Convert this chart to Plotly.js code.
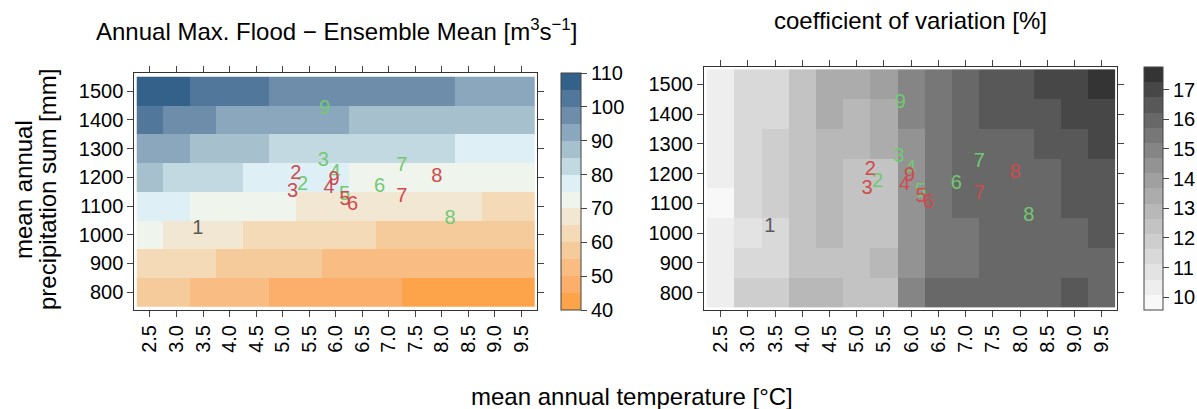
<!DOCTYPE html>
<html>
<head>
<meta charset="utf-8">
<script src="https://cdn.plot.ly/plotly-3.0.1.min.js"></script>
<style>html,body{margin:0;padding:0;background:#fff;}#chart{width:1197px;height:409px;}</style>
</head>
<body>
<div id="chart"></div>
<script>
// ---- data ----
const temps = [2.5,3.0,3.5,4.0,4.5,5.0,5.5,6.0,6.5,7.0,7.5,8.0,8.5,9.0,9.5];
const tempLabels = ["2.5","3.0","3.5","4.0","4.5","5.0","5.5","6.0","6.5","7.0","7.5","8.0","8.5","9.0","9.5"];
const precip = [800,900,1000,1100,1200,1300,1400,1500];

// Annual max flood ensemble mean [m3/s], rows = precip (800..1500), cols = temps
const floodMean = [
  [57.5,56.8,52.4,51.9,51.2,47.6,47.1,46.8,46.3,45.9,42.8,42.4,42.1,41.8,41.5],
  [62.3,61.7,61.2,57.8,57.2,56.7,56.1,52.9,52.6,52.3,52.0,51.7,51.4,51.1,50.8],
  [72.1,67.8,67.3,66.9,62.9,62.6,62.2,61.9,61.4,57.9,57.6,57.2,56.9,56.5,56.2],
  [77.4,76.8,72.8,72.4,72.0,71.6,67.8,67.5,67.2,66.8,66.5,66.1,65.8,62.4,62.1],
  [87.3,82.9,82.5,82.1,77.9,77.6,77.3,76.9,72.8,72.6,72.3,72.0,71.8,71.5,71.2],
  [92.6,92.1,87.8,87.4,87.0,82.9,82.7,82.4,82.2,81.9,81.6,81.3,77.9,77.6,77.2],
  [102.4,97.8,97.3,92.9,92.6,92.3,92.0,91.7,87.9,87.6,87.3,87.0,86.8,86.5,86.2],
  [107.6,106.9,102.8,102.4,102.1,97.9,97.7,97.5,97.3,97.1,96.9,96.7,92.8,92.5,92.2]
];

// coefficient of variation [%], rows = precip (800..1500), cols = temps
const cvPct = [
  [10.3,11.9,11.9,12.9,12.9,12.4,12.4,14.9,16.0,16.0,16.0,16.0,16.0,16.5,16.0],
  [10.3,11.4,11.4,12.4,12.4,12.4,12.9,14.4,15.5,15.5,16.0,16.0,16.0,16.0,16.0],
  [10.3,10.9,11.4,12.4,12.9,12.4,12.4,14.4,15.5,15.5,16.0,16.0,16.0,16.0,16.5],
  [9.8,11.4,11.9,12.4,12.9,12.4,12.4,14.4,15.5,16.0,16.0,16.0,16.0,16.5,16.5],
  [10.3,11.4,11.9,12.4,12.9,12.4,12.4,14.4,15.5,16.0,16.0,16.0,16.0,16.5,16.5],
  [10.3,11.4,11.9,12.4,12.9,12.9,13.4,14.4,15.5,16.0,16.0,16.0,16.5,16.5,17.0],
  [10.3,11.4,11.4,12.4,13.4,12.9,13.4,14.9,15.5,16.0,16.5,16.5,16.5,17.0,17.0],
  [10.3,11.4,11.4,12.4,13.4,13.4,13.9,14.9,15.5,16.0,16.5,16.5,17.0,17.0,17.5]
];

// scenario labels (temperature, precipitation)
const greenT = [5.80,5.77,5.99,5.38,6.17,6.83,7.25,8.16];
const greenP = [1436,1256,1215,1172,1137,1165,1238,1056];
const greenTxt = ["9","3","4","2","5","6","7","8"];
const redT = [5.25,5.19,5.97,5.88,6.18,6.32,7.25,7.91];
const redP = [1212,1149,1192,1163,1122,1102,1132,1201];
const redTxt = ["2","3","9","4","5","6","7","8"];
const refT = [3.40];
const refP = [1020];
const refTxt = ["1"];

const floodTicks = [40,50,60,70,80,90,100,110];
const cvTicks = [10,11,12,13,14,15,16,17];

// ---- palettes ----
const floodColors = ['#FDA44A','#FBAF6A','#F9BC82','#F6CB9C','#F4DAB6','#F2E7D3','#EFF5EC',
                     '#DEF0F5','#C3D9E1','#A7C0CE','#8AA7BD','#6E8DAB','#51789B','#34618A'];
const greyColors = ['#F8F8F8','#EEEEEE','#E3E3E3','#D9D9D9','#CECECE','#C3C3C3','#B8B8B8','#ACACAC',
                    '#A0A0A0','#939393','#858585','#777777','#686868','#585858','#474747','#343434'];
function stepped(cols){
  const n = cols.length, cs = [];
  cols.forEach((c,i)=>{ cs.push([i/n,c]); cs.push([(i+1)/n,c]); });
  return cs;
}

const W = 1197, H = 409;
const FONT = 'Liberation Sans, Arial, sans-serif';
const px = v => v / W;
const py = v => (H - v) / H;

function cbar(xpx, toppx, botpx, thick, ticks){
  return {
    x: px(xpx), xanchor: 'left', y: py(botpx), yanchor: 'bottom',
    len: botpx - toppx, lenmode: 'pixels', thickness: thick, thicknessmode: 'pixels',
    xpad: 0, ypad: 0, outlinewidth: 1, outlinecolor: '#444',
    ticks: 'outside', ticklen: 6, tickcolor: '#444', tickwidth: 1,
    tickvals: ticks, ticktext: ticks.map(String),
    tickfont: {size: 20, color: '#000', family: FONT}
  };
}

const traces = [
  {type:'heatmap', x: temps, y: precip, z: floodMean, zmin: 40, zmax: 110,
   colorscale: stepped(floodColors), zsmooth: false, xaxis:'x', yaxis:'y', hoverinfo:'skip',
   colorbar: cbar(561, 73.3, 310, 20, floodTicks)},
  {type:'heatmap', x: temps, y: precip, z: cvPct, zmin: 9.57, zmax: 17.76,
   colorscale: stepped(greyColors), zsmooth: false, xaxis:'x2', yaxis:'y2', hoverinfo:'skip',
   colorbar: cbar(1143.5, 66.7, 310, 18.5, cvTicks)}
];
[['x','y'],['x2','y2']].forEach(([xa,ya])=>{
  traces.push({type:'scatter', mode:'text', x: greenT, y: greenP, text: greenTxt, xaxis:xa, yaxis:ya,
    textfont:{size:20, color:'#72C972', family: FONT}, hoverinfo:'skip', cliponaxis:false});
  traces.push({type:'scatter', mode:'text', x: redT, y: redP, text: redTxt, xaxis:xa, yaxis:ya,
    textfont:{size:20, color:'#CF4A4F', family: FONT}, hoverinfo:'skip', cliponaxis:false});
  traces.push({type:'scatter', mode:'text', x: refT, y: refP, text: refTxt, xaxis:xa, yaxis:ya,
    textfont:{size:20, color:'#595959', family: FONT}, hoverinfo:'skip', cliponaxis:false});
});

function xax(d0,d1,r){
  return {domain:[px(d0),px(d1)], range:r, showline:true, linecolor:'#333', linewidth:1, mirror:'ticks',
    ticks:'outside', ticklen:6, tickcolor:'#444', tickwidth:1, showgrid:false, zeroline:false,
    tickvals: temps, ticktext: tempLabels, tickangle:-90, tickfont:{size:20, color:'#000', family:FONT}};
}
function yax(top,bot,r,anchor){
  return {domain:[py(bot),py(top)], range:r, showline:true, linecolor:'#333', linewidth:1, mirror:'ticks',
    ticks:'outside', ticklen:6, tickcolor:'#444', tickwidth:1, showgrid:false, zeroline:false, anchor:anchor,
    tickvals: precip, ticktext: precip.map(String), tickfont:{size:20, color:'#000', family:FONT}};
}

const layout = {
  width: W, height: H, margin:{l:0,r:0,t:0,b:0,pad:0},
  paper_bgcolor:'#fff', plot_bgcolor:'#fff', showlegend:false,
  font:{family:FONT, color:'#000'},
  xaxis: Object.assign(xax(134.3,537,[2.204,9.80]), {anchor:'y'}),
  yaxis: yax(73.3,310,[738,1562],'x'),
  xaxis2: Object.assign(xax(704,1117,[2.193,9.781]), {anchor:'y2'}),
  yaxis2: yax(66.7,310,[742,1559],'x2'),
  annotations: [
    {text:'Annual Max. Flood − Ensemble Mean [m<sup>3</sup>s<sup>−1</sup>]', x:px(336), y:py(30), xref:'paper', yref:'paper',
     xanchor:'center', yanchor:'middle', showarrow:false, font:{size:24, family:FONT, color:'#000'}},
    {text:'coefficient of variation [%]', x:px(910.5), y:py(20), xref:'paper', yref:'paper',
     xanchor:'center', yanchor:'middle', showarrow:false, font:{size:24, family:FONT, color:'#000'}},
    {text:'mean annual', x:px(23), y:py(190), xref:'paper', yref:'paper', textangle:-90,
     xanchor:'center', yanchor:'middle', showarrow:false, font:{size:24, family:FONT, color:'#000'}},
    {text:'precipitation sum [mm]', x:px(47), y:py(190), xref:'paper', yref:'paper', textangle:-90,
     xanchor:'center', yanchor:'middle', showarrow:false, font:{size:24, family:FONT, color:'#000'}},
    {text:'mean annual temperature [°C]', x:px(632), y:py(396), xref:'paper', yref:'paper',
     xanchor:'center', yanchor:'middle', showarrow:false, font:{size:24, family:FONT, color:'#000'}}
  ]
};

Plotly.newPlot('chart', traces, layout, {staticPlot:true, displayModeBar:false});
</script>
</body>
</html>
